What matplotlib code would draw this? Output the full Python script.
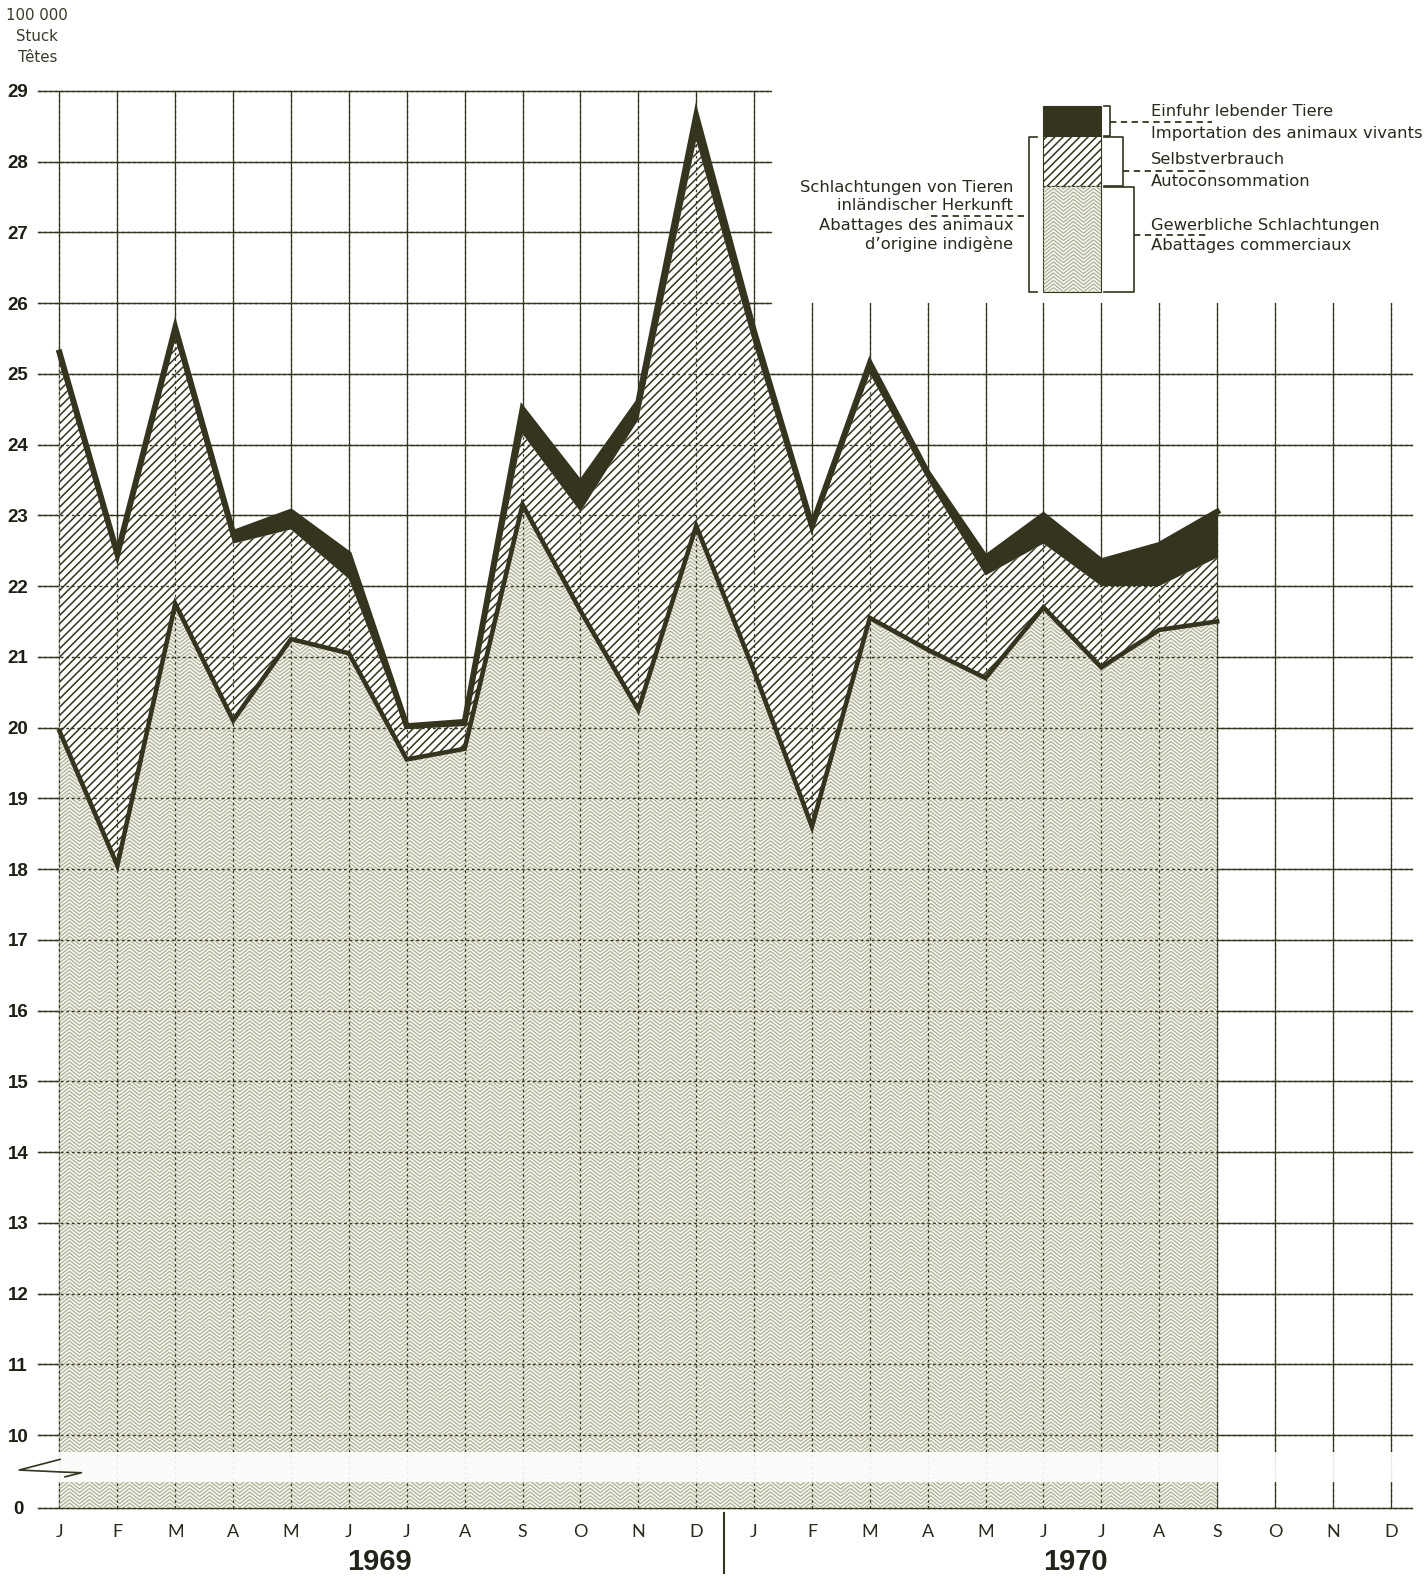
import numpy as np
import matplotlib.pyplot as plt
from matplotlib.collections import LineCollection
from matplotlib.patches import Rectangle

# Schlachtungen / Abattages, 100 000 Stück, Januar 1969 - September 1970
month_labels = ['J', 'F', 'M', 'A', 'M', 'J', 'J', 'A', 'S', 'O', 'N', 'D'] * 2
years = ['1969', '1970']

# Gewerbliche Schlachtungen / Abattages commerciaux
commercial = [19.95, 18.05, 21.75, 20.1, 21.25, 21.05, 19.55, 19.7, 23.15, 21.65, 20.25, 22.85,
              20.8, 18.6, 21.55, 21.1, 20.7, 21.7, 20.85, 21.38, 21.5]
# Selbstverbrauch / Autoconsommation
self_cons = [5.2, 4.3, 3.75, 2.5, 1.55, 1.05, 0.43, 0.32, 1.0, 1.4, 4.1, 5.45,
             4.6, 4.15, 3.45, 2.4, 1.45, 0.9, 1.15, 0.62, 0.9]
# Einfuhr lebender Tiere / Importation des animaux vivants
imports = [0.15, 0.1, 0.15, 0.15, 0.25, 0.35, 0.04, 0.06, 0.35, 0.4, 0.25, 0.35,
           0.2, 0.1, 0.15, 0.1, 0.25, 0.4, 0.35, 0.58, 0.65]

y_ticks = [0] + list(range(10, 30))

INK = '#34341f'
ZIG = '#abad92'
plt.rcParams['hatch.linewidth'] = 1.1


def brk(v):
    # axis break: 0..10 squeezed into about one unit
    v = np.asarray(v, dtype=float)
    return np.where(v >= 10, v, 8.97 + v * 0.103)


def zigzag(ax, clip_path, clip_trans, x0, x1, y0, y1, z=1.2):
    # chevron texture standing in for the printed screen
    step, rows, amp = 0.173, 0.052, 0.113
    xs = np.arange(x0, x1 + step, step)
    segs = []
    for yy in np.arange(y0, y1, rows):
        ys = yy + amp * (np.arange(len(xs)) % 2)
        segs.append(np.column_stack([xs, ys]))
    lc = LineCollection(segs, colors=ZIG, linewidths=0.85, zorder=z)
    ax.add_collection(lc)
    lc.set_clip_path(clip_path, clip_trans)
    return lc


fig = plt.figure(figsize=(14.28, 15.81), dpi=100)
ax = fig.add_axes([0.02342, 0.04396, 0.97076, 0.90310])
ax.set_xlim(-0.45, 23.5)
ax.set_ylim(8.92, 29.1)
for s in ax.spines.values():
    s.set_visible(False)

x = np.arange(len(commercial))
c = np.array(commercial)
d = c + np.array(self_cons)
t = d + np.array(imports)
base = float(brk(0))

# layers
zig_fill = ax.fill_between(x, base, c, facecolor='#f6f6f0', lw=0, zorder=1)
zigzag(ax, zig_fill.get_paths()[0], ax.transData, 0, 20, base - 0.2, 24)
ax.fill_between(x, c, d, facecolor='white', edgecolor=INK, hatch='////', lw=0, zorder=1)
ax.fill_between(x, d, t, facecolor=INK, lw=0, zorder=1)

# grid: solid underneath, dotted on top so it shows through the fills
for lv in y_ticks:
    xr = 12.3 if lv >= 26 else 23.36
    ax.plot([-0.37, xr], [brk(lv), brk(lv)], color=INK, lw=1.0, zorder=0.5)
    ax.plot([-0.37, xr], [brk(lv), brk(lv)], color=INK, lw=1.0, ls=(0, (2, 2)), zorder=2)
for m in range(24):
    top = 29 if m <= 12 else 26.0
    ax.plot([m, m], [base, top], color=INK, lw=0.9, zorder=0.5)
    ax.plot([m, m], [base, top], color=INK, lw=0.9, ls=(0, (2, 2.5)), zorder=2)

# break gap
ax.fill_between([-0.37, 23.36], 9.33, 9.76, facecolor='white', alpha=0.9, lw=0, zorder=3)
ax.plot([0.01, -0.695, 0.04, 0.38, 0.095], [9.657, 9.506, 9.478, 9.468, 9.41],
        color=INK, lw=1.2, clip_on=False, zorder=4)

# outlines
ax.plot(x, t, color=INK, lw=4.3, solid_joinstyle='miter', zorder=5)
ax.plot(x, c, color=INK, lw=3.3, solid_joinstyle='miter', zorder=5)

# ticks
ax.set_yticks(brk(y_ticks))
ax.set_yticklabels([str(v) for v in y_ticks], fontfamily='Liberation Sans',
                   fontweight='bold', fontsize=13.5, color='#1e1e14')
for lab in ax.get_yticklabels():
    lab.set_horizontalalignment('center')
ax.set_xticks(np.arange(24))
ax.set_xticklabels(month_labels, fontfamily='Lato', fontsize=13, color='#2a2a1c')
ax.tick_params(axis='y', length=0, pad=11)
ax.tick_params(axis='x', length=0, pad=9)

# years
for xm, yr in zip([5.52, 17.55], years):
    ax.text(xm, 8.2, yr, ha='center', va='center', fontsize=21, fontweight='bold',
            family=['Liberation Sans Narrow', 'Liberation Sans'], color='#23231a', clip_on=False)
ax.plot([11.48, 11.48], [8.9, 8.05], color=INK, lw=1.5, clip_on=False)

# unit label
for yy, s in zip([30.07, 29.77, 29.47], ['100 000', 'Stuck', 'Têtes']):
    ax.text(-0.385, yy, s, ha='center', va='center', fontsize=10.8, color='#3a3a2a', clip_on=False)

# legend column
ax.add_patch(Rectangle((17, 28.36), 1, 0.43, facecolor=INK, edgecolor=INK, lw=0.8, zorder=6))
ax.add_patch(Rectangle((17, 27.65), 1, 0.71, facecolor='white', edgecolor=INK, hatch='////',
                       lw=0.8, zorder=6))
zrect = Rectangle((17, 26.15), 1, 1.5, facecolor='#f6f6f0', edgecolor=INK, lw=0.8, zorder=6)
ax.add_patch(zrect)
zigzag(ax, zrect.get_path(), zrect.get_transform(), 17, 18, 26.0, 27.7, z=6.5)

bk = dict(color=INK, lw=1.2, zorder=6)
# right brackets
ax.plot([18.05, 18.15, 18.15, 18.05], [28.79, 28.79, 28.36, 28.36], **bk)
ax.plot([18.05, 18.37, 18.37, 18.05], [28.34, 28.34, 27.66, 27.66], **bk)
ax.plot([18.05, 18.57, 18.57, 18.05], [27.64, 27.64, 26.15, 26.15], **bk)
# left bracket
ax.plot([16.88, 16.75, 16.75, 16.88], [28.34, 28.34, 26.15, 26.15], **bk)

dash = dict(color=INK, lw=1.3, ls=(0, (3.5, 2.5)), zorder=6)
ax.plot([18.15, 19.91], [28.56, 28.56], **dash)
ax.plot([18.37, 19.88], [27.87, 27.87], **dash)
ax.plot([18.57, 19.84], [26.96, 26.96], **dash)
ax.plot([15.05, 16.75], [27.23, 27.23], **dash)

lt = dict(fontsize=11.8, color='#2a2a1c', va='center', zorder=7)
right_texts = [(28.70, 'Einfuhr lebender Tiere'), (28.40, 'Importation des animaux vivants'),
               (28.03, 'Selbstverbrauch'), (27.72, 'Autoconsommation'),
               (27.10, 'Gewerbliche Schlachtungen'), (26.81, 'Abattages commerciaux')]
for yy, s in right_texts:
    ax.text(18.85, yy, s, ha='left', **lt)
left_texts = [(27.63, 'Schlachtungen von Tieren'), (27.38, 'inländischer Herkunft'),
              (27.09, 'Abattages des animaux'), (26.83, 'd\u2019origine indigène')]
for yy, s in left_texts:
    ax.text(16.48, yy, s, ha='right', **lt)

fig.savefig('out.png', dpi=100, facecolor='white')
